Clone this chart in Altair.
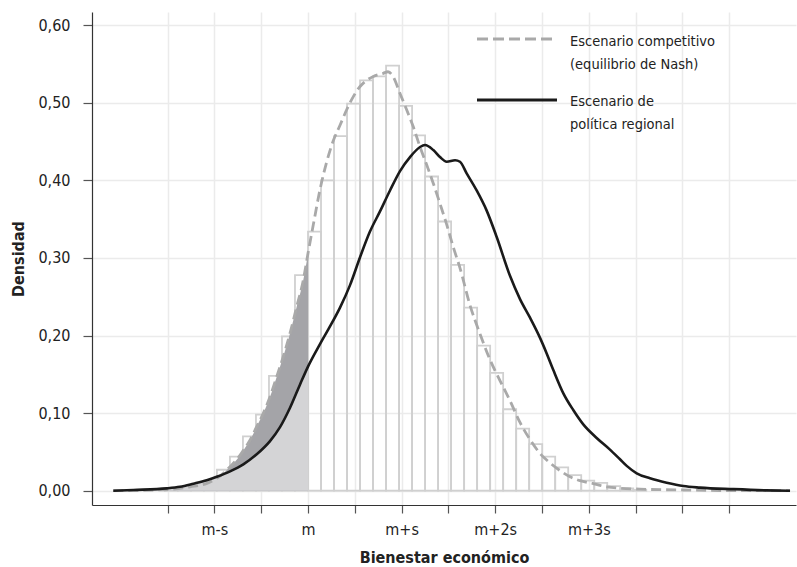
import altair as alt
import pandas as pd

# Horizontal position is measured in standard deviations (s) from the mean (m)
X_TICKS = [-1.5, -1, -0.5, 0, 0.5, 1, 1.5, 2, 2.5, 3, 3.5, 4, 4.5]
Y_TICKS = [0.0, 0.1, 0.2, 0.3, 0.4, 0.5, 0.6]

# Histogram of the competitive scenario (bin index relative to m)
BIN_WIDTH = 0.139
BIN_FIRST = -11
hist_density = [
    0.001, 0.002, 0.005, 0.012, 0.027, 0.044, 0.070, 0.098, 0.148, 0.199, 0.278,
    0.334, 0.400, 0.457, 0.499, 0.529, 0.534, 0.548, 0.496, 0.458, 0.405, 0.347,
    0.291, 0.236, 0.187, 0.152, 0.105, 0.080, 0.060, 0.044, 0.030, 0.020, 0.013,
    0.010, 0.006, 0.003, 0.001,
]

# Density curve: competitive scenario (Nash equilibrium)
comp_x = [-2.08, -1.62, -1.44, -1.26, -1.08, -0.975, -0.905, -0.833, -0.762, -0.691,
          -0.62, -0.548, -0.478, -0.406, -0.334, -0.264, -0.192, -0.121, -0.05, 0.0,
          0.057, 0.128, 0.2, 0.27, 0.342, 0.413, 0.484, 0.556, 0.627, 0.698, 0.804,
          0.855, 0.911, 0.983, 1.054, 1.125, 1.197, 1.268, 1.339, 1.41, 1.482, 1.552,
          1.624, 1.731, 1.838, 1.944, 2.051, 2.158, 2.265, 2.372, 2.479, 2.585, 2.692,
          2.799, 2.906, 3.048, 3.191, 3.547, 3.974, 4.402, 5.15]
comp_y = [0.0, 0.001, 0.002, 0.005, 0.0095, 0.016, 0.0224, 0.031, 0.040, 0.052,
          0.065, 0.0825, 0.0997, 0.121, 0.147, 0.173, 0.203, 0.237, 0.2715, 0.306,
          0.343, 0.388, 0.424, 0.451, 0.471, 0.491, 0.508, 0.521, 0.529, 0.534, 0.538,
          0.540, 0.5335, 0.512, 0.491, 0.469, 0.443, 0.420, 0.396, 0.370, 0.343, 0.314,
          0.287, 0.239, 0.202, 0.169, 0.142, 0.116, 0.088, 0.066, 0.048, 0.036, 0.026,
          0.018, 0.013, 0.0092, 0.005, 0.002, 0.001, 0.0003, 0.0]

# Density curve: regional policy scenario
pol_x = [-2.08, -1.866, -1.51, -1.368, -1.225, -1.082, -0.975, -0.833, -0.691, -0.548,
         -0.406, -0.299, -0.192, -0.085, 0.0, 0.128, 0.217, 0.342, 0.449, 0.556, 0.662,
         0.769, 0.876, 0.983, 1.09, 1.197, 1.25, 1.339, 1.41, 1.482, 1.571, 1.624,
         1.695, 1.802, 1.909, 2.016, 2.158, 2.265, 2.372, 2.479, 2.55, 2.621, 2.728,
         2.834, 2.941, 3.084, 3.226, 3.333, 3.405, 3.512, 3.654, 3.832, 4.01, 4.188,
         4.544, 4.9, 5.15]
pol_y = [0.0, 0.001, 0.003, 0.005, 0.009, 0.0135, 0.018, 0.025, 0.034, 0.047,
         0.064, 0.082, 0.107, 0.137, 0.160, 0.189, 0.208, 0.236, 0.265, 0.301, 0.334,
         0.360, 0.387, 0.412, 0.430, 0.443, 0.4455, 0.439, 0.430, 0.424, 0.426, 0.424,
         0.409, 0.387, 0.361, 0.327, 0.277, 0.247, 0.223, 0.197, 0.177, 0.1555, 0.1255,
         0.104, 0.0855, 0.068, 0.053, 0.0405, 0.032, 0.0224, 0.016, 0.0103, 0.006,
         0.004, 0.002, 0.0005, 0.0]

LEGEND_LABELS = ["Escenario competitivo", "(equilibrio de Nash)",
                 "Escenario de", "política regional"]

FONT = "Liberation Sans Narrow, DejaVu Sans Condensed, Liberation Sans, sans-serif"
GRID = "#ebebeb"

hist = pd.DataFrame({
    "x0": [(BIN_FIRST + i) * BIN_WIDTH for i in range(len(hist_density))],
    "x1": [(BIN_FIRST + i + 1) * BIN_WIDTH for i in range(len(hist_density))],
    "d": hist_density,
    "zero": 0.0,
})
comp = pd.DataFrame({"x": comp_x, "d": comp_y})
pol = pd.DataFrame({"x": pol_x, "d": pol_y})

x_scale = alt.Scale(domain=[-2.3077, 5.2137], nice=False, zero=False)
y_scale = alt.Scale(domain=[-0.0184, 0.617], nice=False, zero=False)

x_axis = alt.Axis(
    values=X_TICKS,
    labelExpr=("datum.value == -1 ? 'm-s' : datum.value == 0 ? 'm' : "
               "datum.value == 1 ? 'm+s' : datum.value == 2 ? 'm+2s' : "
               "datum.value == 3 ? 'm+3s' : ''"),
    title="Bienestar económico",
    grid=True, gridColor=GRID, gridWidth=1.5,
    domainColor="#333333", domainWidth=1.2,
    tickColor="#555555", tickSize=8, tickWidth=1.2,
    labelFontSize=16, labelPadding=8, labelColor="#222222",
    titleFontSize=16, titleFontWeight="bold", titlePadding=12, titleColor="#222222",
)
y_axis = alt.Axis(
    values=Y_TICKS,
    labelExpr="replace(format(datum.value, '.2f'), '.', ',')",
    title="Densidad",
    grid=True, gridColor=GRID, gridWidth=1.5,
    domainColor="#333333", domainWidth=1.2,
    tickColor="#555555", tickSize=9, tickWidth=1.2,
    labelFontSize=16, labelPadding=13, labelColor="#222222",
    titleFontSize=16, titleFontWeight="bold", titlePadding=11, titleColor="#222222",
)

bars = alt.Chart(hist).mark_rect(
    fillOpacity=0, stroke="#d0d0d0", strokeWidth=1.8
).encode(
    x=alt.X("x0:Q", scale=x_scale, axis=x_axis),
    x2="x1:Q",
    y=alt.Y("d:Q", scale=y_scale, axis=y_axis),
    y2="zero:Q",
)

left_filter = alt.datum.x <= 0

dark_area = alt.Chart(comp).transform_filter(left_filter).mark_area(
    color="#a4a4a8", interpolate="monotone", opacity=1
).encode(x=alt.X("x:Q", scale=x_scale), y=alt.Y("d:Q", scale=y_scale))

light_area = alt.Chart(pol).transform_filter(left_filter).mark_area(
    color="#d4d4d6", interpolate="monotone", opacity=1
).encode(x=alt.X("x:Q", scale=x_scale), y=alt.Y("d:Q", scale=y_scale))

comp_line = alt.Chart(comp).mark_line(
    color="#a9a9a9", strokeWidth=2.8, strokeDash=[10, 5], interpolate="monotone"
).encode(x=alt.X("x:Q", scale=x_scale), y=alt.Y("d:Q", scale=y_scale))

pol_line = alt.Chart(pol).mark_line(
    color="#1a1a1a", strokeWidth=2.6, interpolate="monotone"
).encode(x=alt.X("x:Q", scale=x_scale), y=alt.Y("d:Q", scale=y_scale))

# Legend drawn inside the plot area
legend_lines = pd.DataFrame({
    "x0": [385, 385], "x1": [465, 465], "y": [27, 88],
    "kind": ["comp", "pol"],
})
leg_comp = alt.Chart(legend_lines[legend_lines.kind == "comp"]).mark_rule(
    color="#a9a9a9", strokeWidth=2.8, strokeDash=[11, 5]
).encode(
    x=alt.X("x0:Q", scale=None), x2="x1:Q", y=alt.Y("y:Q", scale=None)
)
leg_pol = alt.Chart(legend_lines[legend_lines.kind == "pol"]).mark_rule(
    color="#1a1a1a", strokeWidth=2.8
).encode(
    x=alt.X("x0:Q", scale=None), x2="x1:Q", y=alt.Y("y:Q", scale=None)
)
legend_text = pd.DataFrame({
    "label": LEGEND_LABELS,
    "px": [478, 478, 478, 478],
    "py": [30, 53, 90, 113],
})
leg_text = alt.Chart(legend_text).mark_text(
    align="left", baseline="middle", fontSize=14.5, color="#222222", font=FONT
).encode(
    x=alt.X("px:Q", scale=None), y=alt.Y("py:Q", scale=None), text="label:N"
)

chart = alt.layer(
    bars, dark_area, light_area, comp_line, pol_line, leg_comp, leg_pol, leg_text
).properties(
    width=704, height=493,
    autosize=alt.AutoSizeParams(type="none"),
    padding={"left": 92, "top": 12, "right": 1, "bottom": 62},
    background="white",
).configure(font=FONT).configure_view(stroke=None)

chart.save("out.html", embed_options={"renderer": "svg", "actions": False})
